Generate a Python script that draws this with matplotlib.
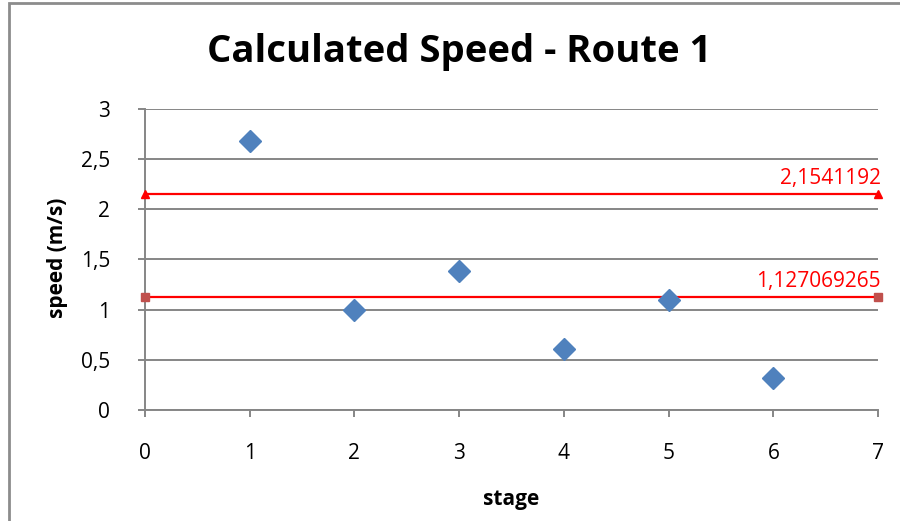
"""
speed per stage for route 1 with two reference levels
"""
from matplotlib import pyplot as plt
from matplotlib.patches import Rectangle

# measured speed per stage
stages = [1, 2, 3, 4, 5, 6]
speeds = [2.68, 1.0, 1.386, 0.608, 1.097, 0.32]

# reference levels drawn across the whole stage range
level_x = [0, 7]
upper_level = 2.1541192
lower_level = 1.127069265
upper_label = "2,1541192"
lower_label = "1,127069265"

y_ticks = [0, 0.5, 1, 1.5, 2, 2.5, 3]
y_tick_labels = ["0", "0,5", "1", "1,5", "2", "2,5", "3"]
x_ticks = [0, 1, 2, 3, 4, 5, 6, 7]

grey = "#868686"
plt.rcParams['font.family'] = ['Open Sans', 'DejaVu Sans']

fig = plt.figure(figsize=(9, 5.21), dpi=100)
ax = fig.add_axes([0.1611, 0.2131, 0.8145, 0.5777])

# outer chart frame
fig.patches.append(Rectangle((0.0105, -0.1), 1.2, 1.094, transform=fig.transFigure,
                             fill=False, edgecolor="#8c8c8c", linewidth=2))

ax.set_xlim(0, 7)
ax.set_ylim(0, 3)
ax.set_yticks(y_ticks)
ax.set_yticklabels(y_tick_labels)
ax.set_xticks(x_ticks)
ax.grid(axis='y', color=grey, linewidth=1.4)
ax.set_axisbelow(True)
for side in ('top', 'right'):
    ax.spines[side].set_visible(False)
for side in ('left', 'bottom'):
    ax.spines[side].set_color(grey)
    ax.spines[side].set_linewidth(1.4)
ax.tick_params(axis='both', colors=grey, width=1.4, length=5, labelsize=15,
               labelcolor='black')
ax.tick_params(axis='x', pad=19)
ax.tick_params(axis='y', pad=20)

ax.plot(level_x, [upper_level] * 2, color='#ff0000', linewidth=1.6,
        marker='^', markersize=6, clip_on=False, zorder=3)
ax.plot(level_x, [lower_level] * 2, color='#ff0000', linewidth=1.6,
        marker='s', markersize=6, markerfacecolor='#c0504d', markeredgecolor='#c0504d',
        clip_on=False, zorder=3)
ax.text(7.03, upper_level + 0.05, upper_label, color='#ff0000', fontsize=15,
        ha='right', va='bottom')
ax.text(7.03, lower_level + 0.05, lower_label, color='#ff0000', fontsize=15,
        ha='right', va='bottom')

ax.plot(stages, speeds, linestyle='none', marker='D', markersize=11,
        color='#4f81bd', zorder=4)

fig.text(459 / 900, 1 - 52 / 521, "Calculated Speed - Route 1", fontsize=27.5,
         fontweight='bold', ha='center', va='center')
fig.text(58 / 900, 1 - 258 / 521, "speed (m/s)", fontsize=15, fontweight='bold',
         rotation=90, ha='center', va='center')
fig.text(511 / 900, 1 - 500 / 521, "stage", fontsize=15, fontweight='bold',
         ha='center', va='center')

fig.savefig("out.png", dpi=100)
